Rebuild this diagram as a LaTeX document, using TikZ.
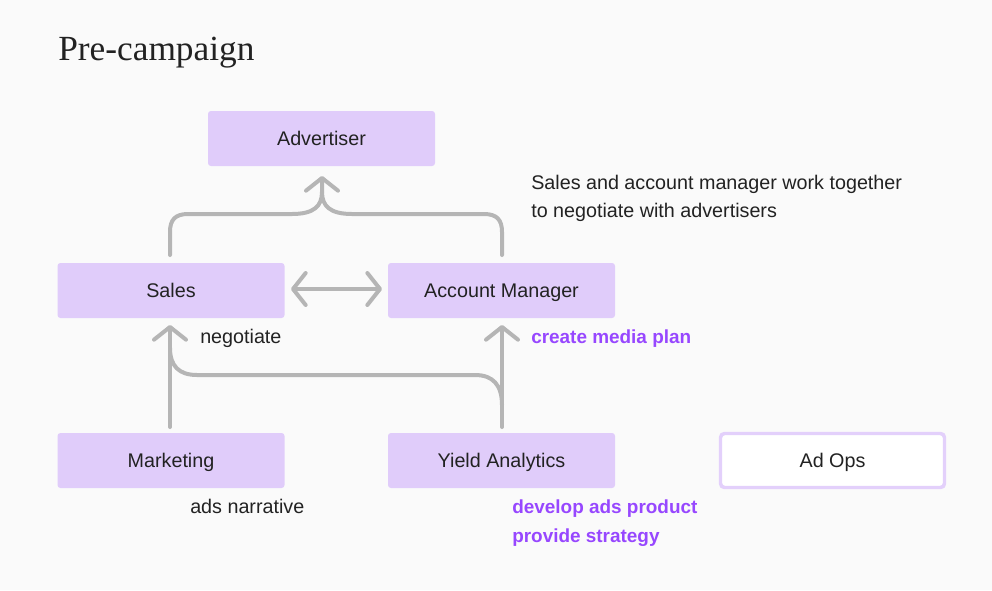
\documentclass[tikz,border=0pt]{standalone}
\usepackage{fontspec}
\setmainfont{Liberation Sans}
\newfontfamily\titlefont{Liberation Serif}
\usetikzlibrary{arrows.meta}
\definecolor{bg}{HTML}{FAFAFA}
\definecolor{boxfill}{HTML}{E0CCFA}
\definecolor{boxline}{HTML}{E3D0FB}
\definecolor{conn}{HTML}{B5B5B5}
\definecolor{ink}{HTML}{222222}
\definecolor{accent}{HTML}{9747FF}
\tikzset{
  rolebox/.style={fill=boxfill, rounded corners=2.2pt, minimum width=170.25pt, minimum height=41.25pt, inner sep=0pt, text height=12.8pt, text depth=3pt, text=ink, font=\fontsize{14.8pt}{18pt}\selectfont},
  openbox/.style={draw=boxline, line width=2.6pt, fill=white, rounded corners=3pt, minimum width=168pt, minimum height=40.5pt, inner sep=0pt, text height=12.8pt, text depth=3pt, text=ink, font=\fontsize{14.8pt}{18pt}\selectfont},
  note/.style={anchor=base west, inner sep=0pt, text=ink, font=\fontsize{14.8pt}{18pt}\selectfont},
  accnote/.style={anchor=base west, inner sep=0pt, text=accent, font=\fontsize{14.2pt}{18pt}\selectfont\bfseries},
  chev/.tip={Straight Barb[length=9.5pt, width=24pt, line cap=round, line join=round]},
  conn/.style={draw=conn, line width=3pt, line cap=round, line join=round},
}
\begin{document}
\begin{tikzpicture}[x=0.75pt, y=-0.75pt]
\fill[bg] (0,0) rectangle (992,590);
\useasboundingbox (0,0) rectangle (992,590);

\node[anchor=base west, inner sep=0pt, text=ink, font=\titlefont\fontsize{26.5pt}{30pt}\selectfont] (title) at (58,60) {Pre-campaign};

\node[rolebox] (adv) at (321.5,138.5) {Advertiser};
\node[rolebox] (sales) at (171,290.5) {Sales};
\node[rolebox] (am) at (501.5,290.5) {Account Manager};
\node[rolebox] (mkt) at (171,460.5) {Marketing};
\node[rolebox] (ya) at (501.5,460.5) {Yield Analytics};
\node[openbox] (adops) at (832.5,460.5) {Ad Ops};

\coordinate (advtip) at (322,176);
\coordinate (salestop) at (170,255);
\coordinate (amtop) at (502,255);
\coordinate (salesbot) at (170,325);
\coordinate (ambot) at (502,325);
\coordinate (mkttop) at (170,427);
\coordinate (yatop) at (502,427);
\coordinate (sa) at (291,289);
\coordinate (ab) at (382,289);

% converge to Advertiser
\draw[conn, -chev] (salestop) -- (170,232) .. controls (170,220) and (175,214) .. (188,214)
  -- (292,214) .. controls (314,214) and (322,206) .. (322,192) -- (advtip);
\draw[conn] (amtop) -- (502,232) .. controls (502,220) and (497,214) .. (484,214)
  -- (352,214) .. controls (330,214) and (322,206) .. (322,192);

% Sales <-> Account Manager
\draw[conn, chev-chev] (sa) -- (ab);

% Marketing -> Sales, Yield Analytics -> Account Manager
\draw[conn, -chev] (mkttop) -- (salesbot);
\draw[conn, -chev] (yatop) -- (ambot);
% branch Yield Analytics -> Sales
\draw[conn] (502,405) .. controls (502,385) and (493,375) .. (475,375)
  -- (197,375) .. controls (179,375) and (170,366) .. (170,348);

% texts
\node[note] (n1) at (531,189) {Sales and account manager work together};
\node[note] (n2) at (531,217) {to negotiate with advertisers};
\node[note] (neg) at (200,343) {negotiate};
\node[accnote] (cmp) at (531,343) {create media plan};
\node[note] (adsn) at (190,513) {ads narrative};
\node[accnote] (dap) at (512,513) {develop ads product};
\node[accnote] (ps) at (512,542) {provide strategy};
\end{tikzpicture}
\end{document}
